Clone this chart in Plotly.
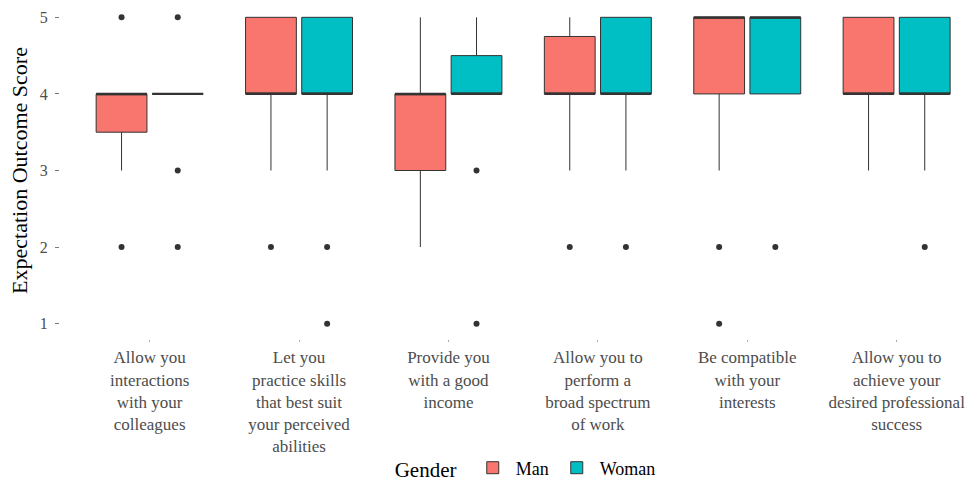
import plotly.graph_objects as go

# Expectation items (x categories)
categories = [
    "Allow you<br>interactions<br>with your<br>colleagues",
    "Let you<br>practice skills<br>that best suit<br>your perceived<br>abilities",
    "Provide you<br>with a good<br>income",
    "Allow you to<br>perform a<br>broad spectrum<br>of work",
    "Be compatible<br>with your<br>interests",
    "Allow you to<br>achieve your<br>desired professional<br>success",
]

# Box summary statistics per gender, one value per category
man_q1 = [3.5, 4, 3, 4, 4, 4]
man_median = [4, 4, 4, 4, 5, 4]
man_q3 = [4, 5, 4, 4.75, 5, 5]
man_low = [3, 3, 2, 3, 3, 3]
man_high = [4, 5, 5, 5, 5, 5]
man_outliers = [[5, 2], [2], [], [2], [2, 1], []]

woman_q1 = [4, 4, 4, 4, 4, 4]
woman_median = [4, 4, 4, 4, 5, 4]
woman_q3 = [4, 5, 4.5, 5, 5, 5]
woman_low = [4, 3, 4, 3, 4, 3]
woman_high = [4, 5, 5, 5, 5, 5]
woman_outliers = [[5, 3, 2], [2, 1], [3, 1], [2], [2], [2]]

y_ticks = [1, 2, 3, 4, 5]

FONT = "Liberation Serif, Times New Roman, serif"
EDGE = "#333333"
DODGE = 0.188
BOX_W = 0.34

groups = [
    ("Man", "#F8766D", -DODGE, man_q1, man_median, man_q3, man_low, man_high, man_outliers),
    ("Woman", "#00BFC4", DODGE, woman_q1, woman_median, woman_q3, woman_low, woman_high, woman_outliers),
]

fig = go.Figure()
positions = list(range(1, len(categories) + 1))

for name, color, off, q1, med, q3, lo, hi, outs in groups:
    xs = [p + off for p in positions]
    fig.add_trace(go.Box(
        name=name,
        x=xs,
        q1=q1, median=med, q3=q3,
        lowerfence=lo, upperfence=hi,
        width=BOX_W,
        fillcolor=color,
        line=dict(color=EDGE, width=1),
        whiskerwidth=0,
        boxpoints=False,
        hoverinfo="skip",
        showlegend=True,
    ))
    # thicker median bar, as in ggplot's fattened median
    mx, my = [], []
    for x, m in zip(xs, med):
        mx += [x - BOX_W / 2, x + BOX_W / 2, None]
        my += [m, m, None]
    fig.add_trace(go.Scatter(
        x=mx, y=my, mode="lines",
        line=dict(color=EDGE, width=2.2),
        showlegend=False, hoverinfo="skip",
    ))
    # outlying responses
    ox, oy = [], []
    for x, vals in zip(xs, outs):
        for v in vals:
            ox.append(x)
            oy.append(v)
    fig.add_trace(go.Scatter(
        x=ox, y=oy, mode="markers",
        marker=dict(color=EDGE, size=6),
        showlegend=False, hoverinfo="skip",
    ))

fig.update_layout(
    width=979, height=484,
    margin=dict(l=60, r=0, t=2, b=145, autoexpand=False),
    paper_bgcolor="white", plot_bgcolor="white",
    font=dict(family=FONT, color="black"),
    showlegend=True,
    legend=dict(
        orientation="h",
        xref="container", yref="container",
        x=0.538, xanchor="center",
        y=0.032, yanchor="middle",
        title=dict(text="Gender ", font=dict(family=FONT, size=21, color="black"), side="left"),
        font=dict(family=FONT, size=18, color="black"),
        itemwidth=36,
    ),
    xaxis=dict(
        range=[0.4, 0.4 + 919 / 149.4],
        tickvals=positions,
        ticktext=categories,
        ticks="outside", ticklen=2, tickcolor="#aaaaaa", tickwidth=1,
        ticklabelstandoff=1,
        tickfont=dict(family=FONT, size=17, color="#4d4d4d"),
        showgrid=False, zeroline=False, showline=False,
        fixedrange=True,
    ),
    yaxis=dict(
        range=[0.8, 5.2],
        tickvals=y_ticks,
        ticktext=[str(v) for v in y_ticks],
        ticks="outside", ticklen=4, tickcolor="#777777", tickwidth=1,
        ticklabelstandoff=4,
        tickfont=dict(family=FONT, size=16, color="#4d4d4d"),
        showgrid=False, zeroline=False, showline=False,
        title=dict(text="Expectation Outcome Score", standoff=6,
                   font=dict(family=FONT, size=22, color="black")),
        fixedrange=True,
    ),
)

fig.write_html("out.html")
